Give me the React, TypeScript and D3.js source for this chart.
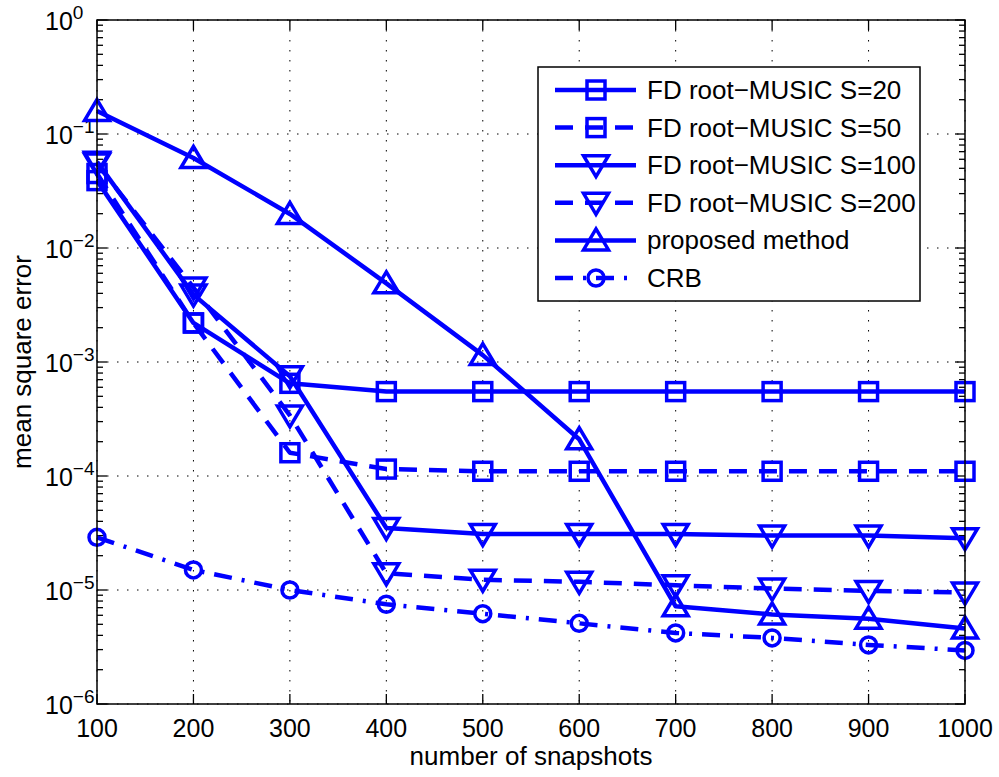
import React from "react";
import * as d3 from "d3";

const snapshots = [100, 200, 300, 400, 500, 600, 700, 800, 900, 1000];
const s20 = [0.039, 2.2e-3, 6.5e-4, 5.5e-4, 5.5e-4, 5.5e-4, 5.5e-4, 5.5e-4, 5.5e-4, 5.5e-4];
const s50 = [0.045, 2.2e-3, 1.6e-4, 1.15e-4, 1.1e-4, 1.1e-4, 1.1e-4, 1.1e-4, 1.1e-4, 1.1e-4];
const s100 = [0.057, 3.9e-3, 7.5e-4, 3.5e-5, 3.1e-5, 3.1e-5, 3.1e-5, 3.0e-5, 3.0e-5, 2.85e-5];
const s200 = [0.055, 4.5e-3, 3.4e-4, 1.4e-5, 1.23e-5, 1.18e-5, 1.1e-5, 1.03e-5, 9.8e-6, 9.5e-6];
const proposed = [0.159, 0.0616, 0.0199, 4.9e-3, 1.15e-3, 2.1e-4, 7.2e-6, 6.1e-6, 5.6e-6, 4.6e-6];
const crb = [2.9e-5, 1.5e-5, 1.0e-5, 7.5e-6, 6.2e-6, 5.1e-6, 4.2e-6, 3.8e-6, 3.3e-6, 2.95e-6];

const seriesNames = [
  "FD root\u2212MUSIC S=20",
  "FD root\u2212MUSIC S=50",
  "FD root\u2212MUSIC S=100",
  "FD root\u2212MUSIC S=200",
  "proposed method",
  "CRB",
];
const seriesValues = [s20, s50, s100, s200, proposed, crb];
const seriesMarkers = ["square", "square", "tridown", "tridown", "triup", "circle"];
const seriesStyles = ["solid", "dash", "solid", "dash", "solid", "dashdot"];

const xTicks = [100, 200, 300, 400, 500, 600, 700, 800, 900, 1000];
const yExps = [0, -1, -2, -3, -4, -5, -6];

const BLUE = "#0000ff";
const L = 97, R = 965, T = 20, B = 704;
const FONT = "Liberation Sans, Arial, Helvetica, sans-serif";

const dashFor = (s: string) =>
  s === "dash" ? "18,12" : s === "dashdot" ? "18,10,3,10" : undefined;

function Marker({ type, x, y }: { type: string; x: number; y: number }) {
  const sw = 3.5;
  if (type === "square") {
    const h = 9;
    return <rect x={x - h} y={y - h} width={2 * h} height={2 * h} fill="none" stroke={BLUE} strokeWidth={sw} />;
  }
  if (type === "circle") {
    return <circle cx={x} cy={y} r={8} fill="none" stroke={BLUE} strokeWidth={sw} />;
  }
  const w = 12.5, h = 9.5;
  if (type === "triup") {
    return <path d={`M${x},${y - h - 2} L${x + w},${y + h} L${x - w},${y + h} Z`} fill="none" stroke={BLUE} strokeWidth={sw} strokeLinejoin="miter" />;
  }
  return <path d={`M${x},${y + h + 2} L${x + w},${y - h} L${x - w},${y - h} Z`} fill="none" stroke={BLUE} strokeWidth={sw} strokeLinejoin="miter" />;
}

export default function App() {
  const x = d3.scaleLinear().domain([100, 1000]).range([L, R]);
  const y = d3.scaleLog().domain([1e-6, 1]).range([B, T]);
  const line = d3.line<number>().x((_, i) => x(snapshots[i])).y((v) => y(v));

  const minor: number[] = [];
  for (let e = -6; e < 0; e++) for (let m = 2; m <= 9; m++) minor.push(m * Math.pow(10, e));

  const legX = 538, legY = 67, legW = 382, legH = 234;
  const rowY = (i: number) => 90 + i * 37.6;

  return (
    <svg width={999} height={777} style={{ position: "absolute", left: 0, top: 0, background: "#fff" }} fontFamily={FONT}>
      <rect x={0} y={0} width={999} height={777} fill="#fff" />
      {/* grid */}
      {xTicks.map((t) => (
        <line key={"gx" + t} x1={x(t)} x2={x(t)} y1={T} y2={B} stroke="#000" strokeWidth={1} strokeDasharray="1.5,8.5" />
      ))}
      {yExps.map((e) => (
        <line key={"gy" + e} x1={L} x2={R} y1={y(Math.pow(10, e))} y2={y(Math.pow(10, e))} stroke="#000" strokeWidth={1} strokeDasharray="1.5,8.5" />
      ))}
      {/* ticks */}
      {xTicks.map((t) => (
        <g key={"tx" + t}>
          <line x1={x(t)} x2={x(t)} y1={B} y2={B - 10} stroke="#000" strokeWidth={1.3} />
          <line x1={x(t)} x2={x(t)} y1={T} y2={T + 10} stroke="#000" strokeWidth={1.3} />
          <text x={x(t)} y={737} textAnchor="middle" fontSize={25} fill="#000">{t}</text>
        </g>
      ))}
      {yExps.map((e) => (
        <g key={"ty" + e}>
          <line x1={L} x2={L + 10} y1={y(Math.pow(10, e))} y2={y(Math.pow(10, e))} stroke="#000" strokeWidth={1.3} />
          <line x1={R} x2={R - 10} y1={y(Math.pow(10, e))} y2={y(Math.pow(10, e))} stroke="#000" strokeWidth={1.3} />
          <text x={45} y={y(Math.pow(10, e)) + 10} fontSize={25} fill="#000">
            10
            <tspan dy={-11} fontSize={19}>{e < 0 ? "\u2212" + Math.abs(e) : String(e)}</tspan>
          </text>
        </g>
      ))}
      {minor.map((v, i) => (
        <g key={"mn" + i}>
          <line x1={L} x2={L + 6} y1={y(v)} y2={y(v)} stroke="#000" strokeWidth={1.3} />
          <line x1={R} x2={R - 6} y1={y(v)} y2={y(v)} stroke="#000" strokeWidth={1.3} />
        </g>
      ))}
      {/* series */}
      {seriesValues.map((vals, si) => (
        <g key={"s" + si}>
          <path d={line(vals) || ""} fill="none" stroke={BLUE} strokeWidth={4.5} strokeDasharray={dashFor(seriesStyles[si])} strokeLinejoin="round" />
          {vals.map((v, i) => (
            <Marker key={i} type={seriesMarkers[si]} x={x(snapshots[i])} y={y(v)} />
          ))}
        </g>
      ))}
      {/* axes box */}
      <rect x={L} y={T} width={R - L} height={B - T} fill="none" stroke="#000" strokeWidth={1.5} />
      {/* labels */}
      <text x={(L + R) / 2} y={765} textAnchor="middle" fontSize={26} fill="#000">number of snapshots</text>
      <text transform={`translate(31,${(T + B) / 2}) rotate(-90)`} textAnchor="middle" fontSize={26} fill="#000">mean square error</text>
      {/* legend */}
      <rect x={legX} y={legY} width={legW} height={legH} fill="#fff" stroke="#000" strokeWidth={1.5} />
      {seriesNames.map((n, i) => (
        <g key={"lg" + i}>
          <line x1={555} x2={636} y1={rowY(i)} y2={rowY(i)} stroke={BLUE} strokeWidth={4.5} strokeDasharray={dashFor(seriesStyles[i])} />
          <Marker type={seriesMarkers[i]} x={596} y={rowY(i)} />
          <text x={647} y={rowY(i) + 9} fontSize={26} fill="#000">{n}</text>
        </g>
      ))}
    </svg>
  );
}
